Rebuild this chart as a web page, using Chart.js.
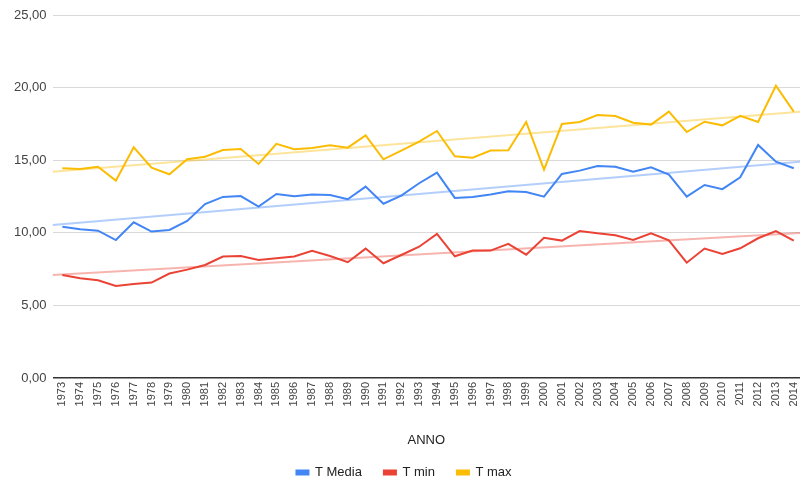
<!DOCTYPE html>
<html>
<head>
<meta charset="utf-8">
<script src="https://cdn.jsdelivr.net/npm/chart.js@4.4.1/dist/chart.umd.min.js"></script>
<style>
  html, body { margin: 0; padding: 0; background: #fff; }
  #wrap { width: 800px; height: 478px; position: relative; }
</style>
</head>
<body>
<div id="wrap"><canvas id="tempChart"></canvas></div>
<script>
    const years = [1973, 1974, 1975, 1976, 1977, 1978, 1979, 1980, 1981, 1982, 1983, 1984, 1985, 1986,
                   1987, 1988, 1989, 1990, 1991, 1992, 1993, 1994, 1995, 1996, 1997, 1998, 1999, 2000,
                   2001, 2002, 2003, 2004, 2005, 2006, 2007, 2008, 2009, 2010, 2011, 2012, 2013, 2014];

    const tMedia = [10.42, 10.24, 10.14, 9.50, 10.72, 10.08, 10.19, 10.81, 11.98, 12.47, 12.53, 11.80, 12.67, 12.52,
                    12.63, 12.60, 12.31, 13.18, 12.00, 12.56, 13.41, 14.14, 12.40, 12.47, 12.63, 12.86, 12.81, 12.49,
                    14.05, 14.28, 14.60, 14.55, 14.21, 14.51, 14.00, 12.49, 13.29, 13.00, 13.82, 16.05, 14.90, 14.44];

    const tMin = [7.09, 6.86, 6.73, 6.34, 6.47, 6.57, 7.19, 7.46, 7.78, 8.36, 8.40, 8.13, 8.24, 8.36,
                  8.75, 8.40, 7.97, 8.91, 7.90, 8.47, 9.04, 9.92, 8.38, 8.77, 8.77, 9.23, 8.49, 9.65,
                  9.46, 10.12, 9.96, 9.83, 9.50, 9.96, 9.48, 7.94, 8.91, 8.54, 8.93, 9.62, 10.12, 9.46];

    const tMax = [14.44, 14.39, 14.55, 13.59, 15.89, 14.48, 14.03, 15.06, 15.24, 15.70, 15.77, 14.74, 16.12, 15.76,
                  15.84, 16.02, 15.86, 16.71, 15.06, 15.66, 16.28, 17.01, 15.27, 15.17, 15.66, 15.68, 17.63, 14.35,
                  17.49, 17.63, 18.11, 18.04, 17.58, 17.45, 18.34, 16.94, 17.65, 17.40, 18.06, 17.63, 20.13, 18.34];

    // trendline values read at the left and right edge of the plot
    const trendMedia = [10.54, 14.90];
    const trendMin = [7.09, 9.99];
    const trendMax = [14.21, 18.34];

    const yTicks = [0, 5, 10, 15, 20, 25];
    const xMin = 1972.45, xMax = 2014.35;

    function toPoints(values) {
        return values.map((v, i) => ({x: years[i], y: v}));
    }
    function trendPoints(t) {
        return [{x: xMin, y: t[0]}, {x: xMax, y: t[1]}];
    }

    const blue = '#4285f4', red = '#ea4335', yellow = '#fbbc04';
    const font = 'Liberation Sans, Arial, sans-serif';

    function lineSet(label, values, color) {
        return {
            label: label,
            data: toPoints(values),
            borderColor: color,
            backgroundColor: color,
            borderWidth: 2,
            pointRadius: 0,
            tension: 0,
            order: 1
        };
    }
    function trendSet(label, t, color) {
        return {
            label: label,
            data: trendPoints(t),
            borderColor: color,
            backgroundColor: color,
            borderWidth: 2,
            pointRadius: 0,
            order: 2
        };
    }

    // the legend's padding also spaces the items apart; keep its box short
    const shortLegend = {
        id: 'shortLegend',
        afterInit(chart) {
            const lg = chart.legend;
            if (!lg) return;
            const fit = lg.fit;
            lg.fit = function () {
                fit.call(this);
                this.height = 34;
            };
        }
    };

    const ctx = document.getElementById('tempChart').getContext('2d');
    new Chart(ctx, {
        type: 'line',
        data: {
            datasets: [
                lineSet('T Media', tMedia, blue),
                lineSet('T min', tMin, red),
                lineSet('T max', tMax, yellow),
                trendSet('trend media', trendMedia, 'rgba(66,133,244,0.4)'),
                trendSet('trend min', trendMin, 'rgba(234,67,53,0.4)'),
                trendSet('trend max', trendMax, 'rgba(251,188,4,0.4)')
            ]
        },
        plugins: [shortLegend],
        options: {
            responsive: true,
            maintainAspectRatio: false,
            animation: false,
            layout: { padding: { left: 8, right: 0, top: 0, bottom: 0 } },
            plugins: {
                legend: {
                    position: 'bottom',
                    labels: {
                        filter: item => item.datasetIndex < 3,
                        boxWidth: 12,
                        boxHeight: 4,
                        padding: 22,
                        color: '#222',
                        font: { family: font, size: 13 }
                    }
                },
                tooltip: { enabled: false }
            },
            scales: {
                x: {
                    type: 'linear',
                    min: xMin,
                    max: xMax,
                    afterFit: s => { s.paddingRight = 0; s.paddingLeft = 0; },
                    grid: { display: false, drawTicks: false },
                    border: { display: false },
                    ticks: {
                        stepSize: 1,
                        autoSkip: false,
                        includeBounds: false,
                        minRotation: 90,
                        maxRotation: 90,
                        padding: 4,
                        color: '#444',
                        font: { family: font, size: 11 },
                        callback: v => String(v)
                    },
                    title: {
                        display: true,
                        text: 'ANNO',
                        color: '#222',
                        font: { family: font, size: 13 },
                        padding: { top: 22, bottom: -4 }
                    }
                },
                y: {
                    min: 0,
                    max: 25,
                    afterBuildTicks: axis => { axis.ticks = yTicks.map(v => ({value: v})); },
                    afterFit: s => { s.paddingTop = 15; },
                    border: { display: false },
                    grid: {
                        color: c => c.tick && c.tick.value === 0 ? '#333' : '#d9d9d9',
                        lineWidth: c => c.tick && c.tick.value === 0 ? 1.5 : 1,
                        drawTicks: false
                    },
                    ticks: {
                        padding: 6,
                        color: '#444',
                        font: { family: font, size: 13 },
                        callback: v => v.toFixed(2).replace('.', ',')
                    }
                }
            }
        }
    });
</script>
</body>
</html>
